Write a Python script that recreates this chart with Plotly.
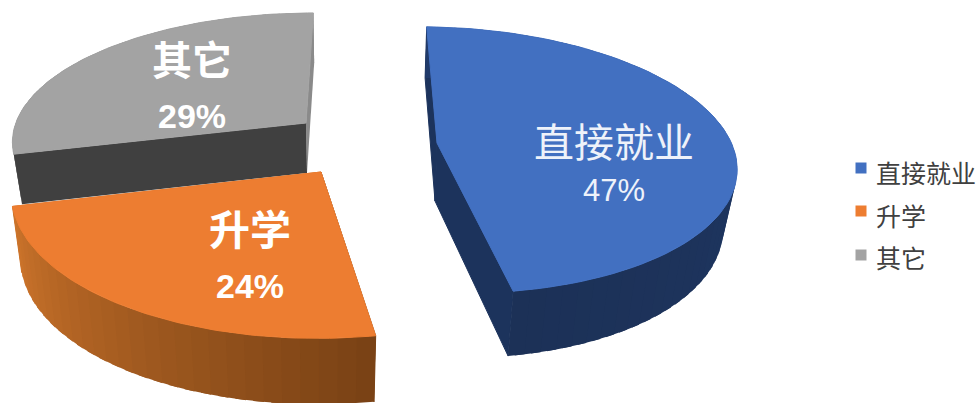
import math
import plotly.graph_objects as go

categories = ["直接就业", "升学", "其它"]
values = [47, 24, 29]

TOP_COLORS = ["#4270c1", "#ed7d31", "#a3a3a3"]
START = 3.0
K = 0.128
# per-slice drawing geometry: apex position, radii, shear, side depth, base scale
GEOM = [
    dict(ax=437, ay=143, rx=293, ry=131, sx=-27, sy=3, depth=58, dk=0.12, bs=0.96, bdx=-2, over=False,
         cut0="#1c335c", cut1="#1c335c", arc0=(0x20, 0x3a, 0x6a), arc1=(0x1c, 0x31, 0x57)),
    dict(ax=321, ay=172, rx=308, ry=145, sx=-6, sy=5, depth=66, dk=0.0, bs=0.97, bdx=0, over=False,
         cut0="#7a4215", cut1="#cc742b", arc0=(0x7a, 0x42, 0x15), arc1=(0xcc, 0x74, 0x2b)),
    dict(ax=306, ay=123, rx=292, ry=124, sx=-7, sy=6, depth=50, dk=0.0, bs=0.975, bdx=1, over=True,
         cut0="#404040", cut1="#8a8a8a", arc0=(0x70, 0x70, 0x70), arc1=(0x8a, 0x8a, 0x8a)),
]
LABELS = [
    dict(x=614, y=140, py=190, size=40, psize=31, bold=False, color="#eef2fa"),
    dict(x=250, y=227, py=286, size=41, psize=34, bold=True, color="#ffffff"),
    dict(x=192, y=58, py=116, size=40, psize=34, bold=True, color="#ffffff"),
]
KEY_X = 861
KEY_Y = [168, 211, 255]
KEY_TEXT_X = 874
KEY_TEXT_Y = [172, 215, 257]


def top(g, deg):
    t = math.radians(deg)
    u, v = math.sin(t), math.cos(t)
    w = 1 + K * v
    return g["ax"] + (g["rx"] * u + g["sx"] * v) / w, g["ay"] - (g["ry"] * v + g["sy"] * u) / w


def bottom(g, deg):
    x, y = top(g, deg)
    v = math.cos(math.radians(deg))
    return g["ax"] + g["bdx"] + g["bs"] * (x - g["ax"]), y + g["depth"] * (1 - g["dk"] * v)


def poly(fig, pts, color, lw=0.0):
    fig.add_trace(go.Scatter(
        x=[p[0] for p in pts] + [pts[0][0]],
        y=[p[1] for p in pts] + [pts[0][1]],
        mode="lines", fill="toself", fillcolor=color,
        line=dict(color=color, width=lw),
        hoverinfo="skip", showlegend=False,
    ))


fig = go.Figure()

spans = []
a = START
for val in values:
    spans.append((a, a + val * 3.6))
    a += val * 3.6

for i in [2, 0, 1]:
    g = GEOM[i]
    a0, a1 = spans[i]
    apex = (g["ax"], g["ay"])
    apex_b = (g["ax"] + g["bdx"], g["ay"] + g["depth"])
    cut0 = [apex, top(g, a0), bottom(g, a0), apex_b]
    cut1 = [apex, top(g, a1), bottom(g, a1), apex_b]
    if not g["over"]:
        poly(fig, cut0, g["cut0"], 1.0)
        poly(fig, cut1, g["cut1"], 1.0)
    # side around the arc, as a stepped gradient whose steps overlap the next one
    n = max(8, int((a1 - a0) / 3))
    step = (a1 - a0) / n
    for j in range(n):
        d0 = a0 + step * j
        d1 = min(a1, d0 + step * 1.6)
        f = j / max(1, n - 1)
        c = tuple(round(g["arc0"][m] + (g["arc1"][m] - g["arc0"][m]) * f) for m in range(3))
        poly(fig, [top(g, d0), top(g, d1), bottom(g, d1), bottom(g, d0)], "rgb(%d,%d,%d)" % c)
    if g["over"]:
        poly(fig, cut1, g["cut1"])
        poly(fig, cut0, g["cut0"])
    # top face
    m = 80
    pts = [apex] + [top(g, a0 + (a1 - a0) * j / m) for j in range(m + 1)]
    poly(fig, pts, TOP_COLORS[i], 1.0)

# pie labels
for cat, val, lab in zip(categories, values, LABELS):
    weight = "bold" if lab["bold"] else "normal"
    fig.add_annotation(x=lab["x"], y=lab["y"], text=cat, showarrow=False,
                       font=dict(family="Noto Sans CJK SC", size=lab["size"], color=lab["color"], weight=weight))
    fig.add_annotation(x=lab["x"], y=lab["py"], text=f"{val}%", showarrow=False,
                       font=dict(family="Liberation Sans", size=lab["psize"], color=lab["color"], weight=weight))

# key
for cat, color, y, ty in zip(categories, TOP_COLORS, KEY_Y, KEY_TEXT_Y):
    fig.add_trace(go.Scatter(
        x=[KEY_X], y=[y], mode="markers",
        marker=dict(symbol="square", size=11, color=color, line=dict(width=0)),
        hoverinfo="skip", showlegend=False,
    ))
    fig.add_annotation(x=KEY_TEXT_X, y=ty, text=cat, showarrow=False, xanchor="left",
                       font=dict(family="Noto Sans CJK SC", size=25, color="#404040"))

fig.update_layout(
    width=979, height=403, margin=dict(l=0, r=0, t=0, b=0),
    paper_bgcolor="white", plot_bgcolor="white", showlegend=False,
    xaxis=dict(range=[0, 979], visible=False, fixedrange=True),
    yaxis=dict(range=[403, 0], visible=False, fixedrange=True),
)
fig.write_html("out.html", config=dict(displayModeBar=False),
               post_script="document.body.style.margin='0';")
